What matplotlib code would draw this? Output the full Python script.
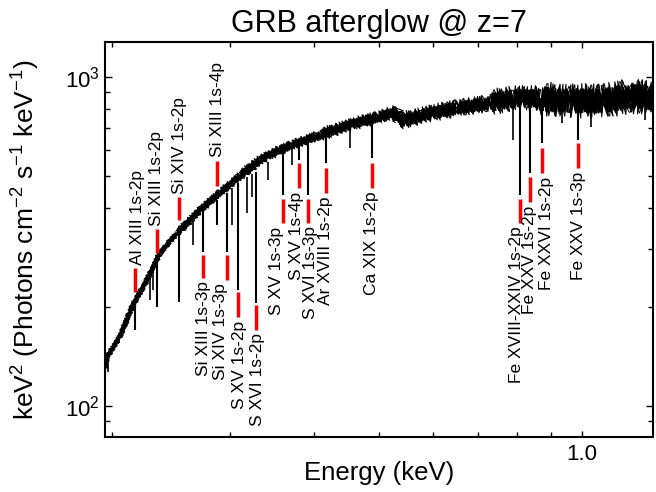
import numpy as np
import matplotlib
matplotlib.use('Agg')
import matplotlib.pyplot as plt

plt.rcParams['font.family'] = ['Liberation Sans', 'DejaVu Sans']
plt.rcParams['mathtext.fontset'] = 'custom'
plt.rcParams['mathtext.rm'] = 'Liberation Sans'
plt.rcParams['mathtext.it'] = 'Liberation Sans'
plt.rcParams['mathtext.default'] = 'regular'

# continuum of the simulated spectrum (keV, keV^2 photons cm^-2 s^-1 keV^-1)
energy = np.array([0.1953, 0.1966, 0.2055, 0.2149, 0.2255, 0.2357, 0.2498, 0.2704,
                   0.2895, 0.3101, 0.3321, 0.3556, 0.3808, 0.4078, 0.4368, 0.4677,
                   0.5009, 0.5309, 0.5346, 0.5804, 0.6524, 0.7306, 0.7902, 0.8667,
                   0.960, 1.076, 1.180, 1.277])
flux = np.array([130.2, 140.6, 161.8, 202.4, 241.0, 291.0, 333.9, 392.8,
                 443.2, 499.2, 558.3, 598.8, 633.2, 664.9, 698.4, 728.3,
                 754.3, 786.6, 730.0, 765.0, 803.0, 832.0, 862.0, 856.0,
                 844.0, 844.0, 873.7, 862.0])

# identified absorption lines
line_names = ['Al XIII 1s-2p', 'Si XIII 1s-2p', 'Si XIV 1s-2p', 'Si XIII 1s-3p',
              'Si XIII 1s-4p', 'Si XIV 1s-3p', 'S XV 1s-2p', 'S XVI 1s-2p',
              'S XV 1s-3p', 'S XV 1s-4p', 'S XVI 1s-3p', 'Ar XVIII 1s-2p',
              'Ca XIX 1s-2p', 'Fe XVIII-XXIV 1s-2p', 'Fe XXV 1s-2p',
              'Fe XXVI 1s-2p', 'Fe XXV 1s-3p']
line_energy = [0.2164, 0.2333, 0.2517, 0.2733, 0.2867, 0.2967, 0.3080, 0.3275,
               0.3594, 0.3796, 0.3915, 0.4164, 0.4875, 0.8094, 0.8376, 0.8728, 0.9876]
dip_top = [209.5, 273.4, 334.9, 396.2, 421.9, 443.2, 475.3, 513.3,
           598.8, 633.2, 646.6, 674.4, 743.9, 861.7, 861.7, 855.7, 843.7]
dip_bottom = [169.9, 199.5, 206.6, 293.1, 354.2, 293.1, 224.7, 205.2,
              437.0, 558.3, 437.0, 546.7, 566.2, 437.0, 509.7, 628.8, 642.1]
mark_top = [262.1, 344.4, 430.9, 287.0, 554.6, 287.0, 221.6, 202.4,
            424.9, 546.7, 424.9, 527.9, 546.7, 424.9, 495.6, 607.2, 628.8]
mark_bottom = [221.6, 291.0, 366.8, 244.4, 465.5, 241.0, 186.1, 169.9,
               359.2, 459.0, 359.2, 443.2, 459.0, 359.2, 416.0, 509.7, 527.9]
label_above = [True, True, True, False, True, False, False, False,
               False, False, False, False, False, False, False, False, False]

# weaker, unlabelled dips
minor_energy = [0.1973, 0.2278, 0.2302, 0.2640, 0.3018, 0.3176, 0.3231, 0.3413,
                0.3706, 0.4521, 0.7902, 0.9351, 1.0325, 1.2422]
minor_top = [137.7, 244.4, 254.9, 372.0, 459.0, 495.6, 506.2, 550.5,
             615.7, 708.3, 862.0, 849.6, 843.7, 867.8]
minor_bottom = [126.6, 209.5, 224.7, 307.8, 354.2, 385.3, 430.9, 485.3,
                539.1, 607.2, 642.1, 723.3, 703.4, 738.6]

fig = plt.figure(figsize=(6.56, 4.92), dpi=100)
ax = fig.add_axes([0.1601, 0.1118, 0.8354, 0.8028])
ax.set_xscale('log')
ax.set_yscale('log')

# noisy spectrum: continuum drawn in pieces with growing scatter,
# several sketch passes to fill the band, a few wider ones for the spikes
pieces = [(0, 7, 2.0), (6, 10, 2.8), (9, 14, 3.5), (13, 19, 4.5),
          (18, 22, 6.0), (21, 24, 9.0), (23, len(energy), 12.0)]
passes = [(1.3, 1.0, 1.0), (1.8, 1.0, 1.0), (2.4, 1.0, 1.0), (3.1, 1.0, 1.0),
          (5.0, 1.45, 0.8), (7.0, 1.35, 0.7)]
for length, amp, lw in passes:
    for i0, i1, s in pieces:
        ln, = ax.plot(energy[i0:i1], flux[i0:i1], color='k', lw=lw)
        ln.set_sketch_params(scale=s * amp, length=length, randomness=2.5)

ax.vlines(line_energy, dip_bottom, dip_top, color='k', lw=1.5)
ax.vlines(minor_energy, minor_bottom, minor_top, color='k', lw=1.2)
ax.vlines(line_energy, mark_bottom, mark_top, color='red', lw=2.5)

# sideways nudges (points) so neighbouring labels don't collide
nudge = {'Al XIII 1s-2p': 2, 'Si XIV 1s-3p': -5, 'S XV 1s-2p': 1, 'S XVI 1s-2p': 1.5,
         'S XV 1s-3p': -4.5, 'S XV 1s-4p': -2, 'S XVI 1s-3p': 1.5,
         'Fe XVIII-XXIV 1s-2p': -2.5, 'Fe XXVI 1s-2p': 3.5}
for name, e, mt, mb, up in zip(line_names, line_energy, mark_top, mark_bottom, label_above):
    dx = nudge.get(name, 0)
    if up:
        ax.annotate(name, (e, mt), xytext=(dx, 2.5), textcoords='offset points',
                    rotation=90, ha='center', va='bottom', fontsize=12.5)
    else:
        ax.annotate(name, (e, mb), xytext=(dx, -2.5), textcoords='offset points',
                    rotation=90, ha='center', va='top', fontsize=12.5)

ax.set_xlim(0.1953, 1.277)
ax.set_ylim(80.3, 1275)

ax.set_xticks([1.0], labels=['1.0'])
ax.set_xticks([0.2, 0.3, 0.4, 0.5, 0.6, 0.7, 0.8, 0.9], minor=True)
ax.set_yticks([100, 1000], labels=['$10^2$', '$10^3$'])
ax.set_yticks([90, 200, 300, 400, 500, 600, 700, 800, 900], minor=True)
ax.tick_params(which='both', direction='in', top=True, right=True, width=1.0)
ax.tick_params(which='major', length=5, labelsize=16)
ax.tick_params(which='minor', length=3.5)
ax.tick_params(axis='x', which='major', length=4, pad=5)
ax.tick_params(axis='y', which='major', pad=4)
ax.yaxis.set_minor_formatter(plt.NullFormatter())
ax.xaxis.set_minor_formatter(plt.NullFormatter())
for sp in ax.spines.values():
    sp.set_linewidth(1.5)

ax.set_xlabel('Energy (keV)', fontsize=18.5)
ax.xaxis.set_label_coords(0.5, -0.061)
ax.set_ylabel('keV$^2$ (Photons cm$^{-2}$ s$^{-1}$ keV$^{-1}$)', fontsize=19)
ax.yaxis.set_label_coords(-0.115, 0.5)
ax.set_title('GRB afterglow @ z=7', fontsize=22, pad=7.4)

fig.savefig('out.png', dpi=100)
